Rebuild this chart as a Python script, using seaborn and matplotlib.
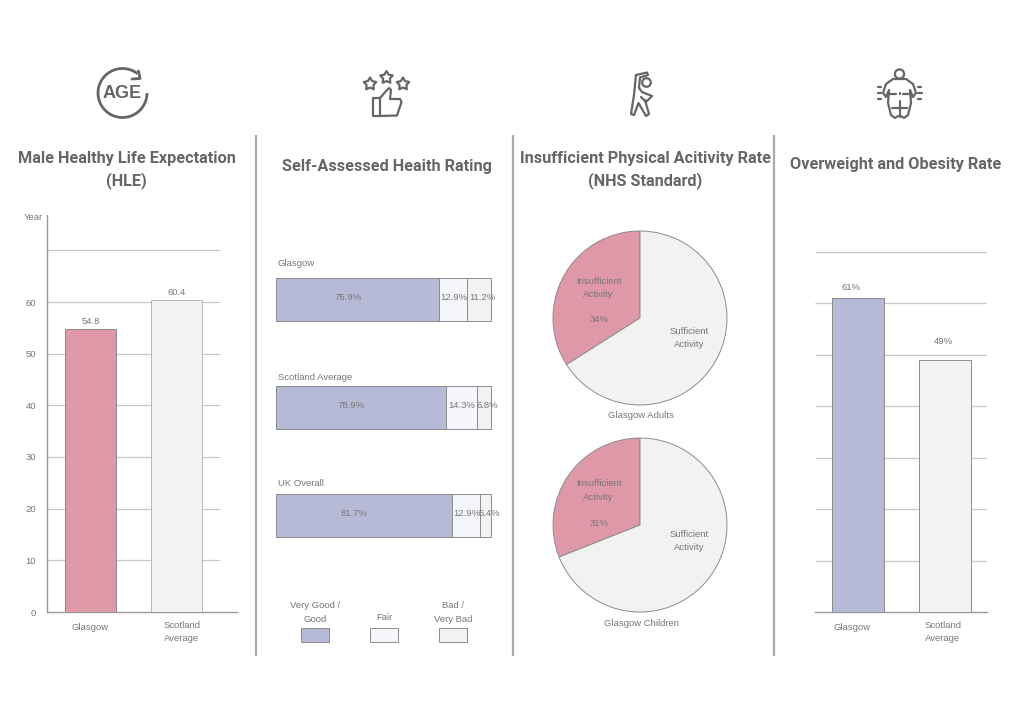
import numpy as np
import pandas as pd
import matplotlib
matplotlib.use("Agg")
import matplotlib.pyplot as plt
from matplotlib.patches import Arc, Circle, Polygon
import seaborn as sns

# Data
hle_cities = ["Glasgow", "Scotland\nAverage"]
hle_values = [54.8, 60.4]
hle_ticks = [0, 10, 20, 30, 40, 50, 60]

rating_places = ["Glasgow", "Scotland Average", "UK Overall"]
rating_good = [75.9, 78.9, 81.7]
rating_fair = [12.9, 14.3, 12.9]
rating_bad = [11.2, 6.8, 5.4]
rating_legend = ["Very Good /\nGood", "Fair", "Bad /\nVery Bad"]

pie_names = ["Glasgow Adults", "Glasgow Children"]
pie_insufficient = [34, 31]

obesity_cities = ["Glasgow", "Scotland\nAverage"]
obesity_values = [61, 49]

# Colours
PINK = "#de98a8"
BLUE = "#b6bad6"
PALE = "#f5f6fb"
LIGHT = "#f2f2f2"
GREY = "#777777"
DARK = "#666666"
EDGE = "#8c8c8c"
GRID = "#c8c8c8"

W, H = 1024, 724

sns.set_theme(style="white")
plt.rcParams["font.family"] = ["Liberation Sans", "DejaVu Sans"]
SMALL_SIZE = 6.8

fig = plt.figure(figsize=(W / 100, H / 100), dpi=100, facecolor="white")


def px_axes(x0, y0, x1, y1):
    # axes placed with pixel box, y measured from the top
    ax = fig.add_axes([x0 / W, 1 - y1 / H, (x1 - x0) / W, (y1 - y0) / H])
    ax.patch.set_alpha(0)
    return ax


def small_text(ax, x, y, s, **kw):
    ax.text(x, y, s, fontsize=SMALL_SIZE, color=GREY, ha="center",
            va="center", linespacing=1.6, **kw)


# overlay in pixel coords for text, dividers, icons
over = px_axes(0, 0, W, H)
over.set_zorder(10)
over.set_xlim(0, W)
over.set_ylim(H, 0)
over.axis("off")

for x in [255.5, 513, 773.5]:
    over.plot([x, x], [135, 656], color="#ababab", lw=1.6, solid_capstyle="butt")

titles = [(126.5, 158.5, "Male Healthy Life Expectation"), (126.5, 180.5, "(HLE)"),
          (386.5, 166, "Self-Assessed Heaith Rating"),
          (645.5, 158.5, "Insufficient Physical Acitivity Rate"), (645.5, 180.5, "(NHS Standard)"),
          (895.5, 164, "Overweight and Obesity Rate")]
for x, y, s in titles:
    over.text(x, y, s, family=["Roboto", "Liberation Sans"], fontsize=11.7, fontweight="bold",
              color=DARK, ha="center", va="center")


def bar_panel(rect, cats, vals, colors, y_per_px, centers, bar_px, line_end):
    x0, y0, x1, y1 = rect
    ax = px_axes(x0, y0, x1, y1)
    df = pd.DataFrame({"city": cats, "value": vals})
    sns.barplot(data=df, x="city", y="value", hue="city", palette=colors, legend=False,
                width=bar_px / (centers[1] - centers[0]), saturation=1,
                edgecolor=EDGE, linewidth=0.7, ax=ax, zorder=3)
    step = centers[1] - centers[0]
    ax.set_xlim((x0 - centers[0]) / step, (x1 - centers[0]) / step)
    ax.set_ylim(0, (y1 - y0) * y_per_px)
    ax.set_xlabel("")
    ax.set_ylabel("")
    ax.set_xticks([])
    for s in ["top", "right", "left"]:
        ax.spines[s].set_visible(False)
    ax.spines["bottom"].set_color("#999999")
    ax.spines["bottom"].set_linewidth(1)
    ax.hlines(np.arange(10, 80, 10), ax.get_xlim()[0], (line_end - centers[0]) / step,
              color=GRID, lw=0.9, zorder=1)
    return ax


# HLE panel
ax1 = bar_panel((47, 215, 237, 612), hle_cities, hle_values, [PINK, LIGHT],
                60 / 310, [90.5, 176.5], 51, 220)
ax1.spines["left"].set_visible(True)
ax1.spines["left"].set_color("#999999")
ax1.spines["left"].set_linewidth(1)
ax1.set_yticks(hle_ticks)
ax1.set_yticklabels(hle_ticks, fontsize=SMALL_SIZE, color=GREY)
ax1.tick_params(axis="y", length=0, pad=8)
ax1.patches[1].set_edgecolor("#b5b5b5")
for v, x in zip(hle_values, [90.5, 177]):
    small_text(over, x, 612 - v * 310 / 60 - 7.5, f"{v}")
small_text(over, 33, 217, "Year")
small_text(over, 90, 628, hle_cities[0])
small_text(over, 182, 632, hle_cities[1])

# Obesity panel
ax4 = bar_panel((815, 215, 987, 612), obesity_cities, obesity_values, [BLUE, LIGHT],
                1 / 5.15, [858, 944.5], 52, 987)
ax4.set_yticks([])
small_text(over, 851, 287, f"{obesity_values[0]}%")
small_text(over, 943, 342, f"{obesity_values[1]}%")
small_text(over, 852, 628, obesity_cities[0])
small_text(over, 943, 632, obesity_cities[1])

# Stacked rating bars
ax2 = px_axes(276, 245, 492, 560)
rating_df = pd.DataFrame({"place": rating_places, "good": rating_good,
                          "fair": rating_fair, "bad": rating_bad})
lefts = np.zeros(len(rating_places))
for col, color in zip(["good", "fair", "bad"], [BLUE, PALE, LIGHT]):
    sns.barplot(data=rating_df, y="place", x=col, color=color, saturation=1, width=43 / 108,
                left=lefts, edgecolor=EDGE, linewidth=0.7, ax=ax2)
    lefts = lefts + rating_df[col].values
ax2.set_xlim(0, 100.3)
ax2.set_ylim((560 - 299) / 108, (245 - 299) / 108)
ax2.axis("off")
for i, place in enumerate(rating_places):
    yc = 299 + 108 * i
    over.text(278, [263, 377, 483][i], place, fontsize=SMALL_SIZE, color=GREY, ha="left", va="center")
    g, f, b = rating_good[i], rating_fair[i], rating_bad[i]
    small_text(over, 276 + g * 2.16 * 0.44, yc - 1, f"{g}%")
    small_text(over, 276 + (g + f / 2) * 2.16, yc - 1, f"{f}%")
    small_text(over, 279 + (g + f + b / 2) * 2.16, yc - 1, f"{b}%")

# Rating legend
for x, s, c, ty in zip([315, 384, 453], rating_legend, [BLUE, PALE, LIGHT], [612.5, 618, 612.5]):
    small_text(over, x, ty, s)
    over.add_patch(plt.Rectangle((x - 14, 627.5), 28, 14, fc=c, ec=EDGE, lw=0.7))

# Pies
ins_y = [-30, -34.5]
pct_y = [2, -2]
suf_y = [20, 16]
for cy, name, val, a, b, c in zip([318, 525], pie_names, pie_insufficient, ins_y, pct_y, suf_y):
    ax = px_axes(640 - 87, cy - 87, 640 + 87, cy + 87)
    ax.pie([val, 100 - val], colors=[PINK, LIGHT], startangle=90, counterclock=True, radius=1,
           wedgeprops=dict(edgecolor=EDGE, linewidth=0.7))
    ax.set_xlim(-1, 1)
    ax.set_ylim(-1, 1)
    small_text(over, 598.5, cy + a, "Insufficient\nActivity")
    small_text(over, 599, cy + b, f"{val}%")
    small_text(over, 689, cy + c, "Sufficient\nActivity")
    small_text(over, 641, cy + 98, name)

# Icons
ic = dict(color=DARK, lw=1.6, solid_capstyle="round", solid_joinstyle="round")


def star(cx, cy, r):
    ang = np.radians(np.arange(10) * 36 - 90)
    rad = np.where(np.arange(10) % 2 == 0, r, r * 0.55)
    over.add_patch(Polygon(np.c_[cx + rad * np.cos(ang), cy + rad * np.sin(ang)], closed=True,
                           fc="none", ec=DARK, lw=1.6, joinstyle="round"))


# age icon
over.add_patch(Arc((122.5, 93), 49, 49, theta1=0, theta2=308, ec=DARK, lw=2.0))
over.plot([138.5, 140, 132], [71, 78.5, 79], **{**ic, "lw": 2})
over.text(122.5, 93.5, "AGE", fontsize=13, fontweight="bold", color=DARK, ha="center", va="center")

# stars and thumb
star(370, 84, 6.5)
star(386.5, 77.5, 6.5)
star(403, 84, 6.5)
over.plot([372.5, 380, 380, 372.5, 372.5], [98, 98, 116, 116, 98], **ic)
over.plot([380, 387, 389, 391, 390, 400, 401.5, 397, 380],
          [98, 90, 88, 90, 99, 99, 102, 115.5, 116], **ic)

# stretching person
over.plot([636, 647, 648, 640, 639, 642, 652, 646, 641],
          [75, 72.5, 75, 77.5, 88, 92, 96, 102, 97], **ic)
over.plot([645, 649, 646, 638.5, 634, 631, 634, 636],
          [100, 114, 116, 103, 115, 114, 95, 75], **ic)
over.add_patch(Circle((646.5, 82.5), 4.3, fc="white", ec=DARK, lw=1.6))

# overweight person
cx = 899.5
over.add_patch(Circle((cx, 74), 4.6, fc="white", ec=DARK, lw=1.6))
left_side = np.array([[893, 79], [886, 84], [883, 93], [886, 97], [889, 90], [888, 103],
                      [891, 115], [895, 118], [898, 116]])
over.plot(left_side[:, 0], left_side[:, 1], **ic)
over.plot(2 * cx - left_side[:, 0], left_side[:, 1], **ic)
over.plot([893, 906], [79, 79], **ic)
over.plot([890, 896], [93.5, 93.5], **ic)
over.plot([903, 909], [93.5, 93.5], **ic)
over.plot([cx, cx], [93, 94], **ic)
over.plot([cx, cx], [101, 117], **ic)
over.plot([892, 907], [108, 108], **ic)
for side, sx in [(-1, 881), (1, 918)]:
    for yy, ln in [(87, 3), (93, 3.5), (99, 3)]:
        over.plot([sx, sx + side * ln], [yy, yy], **ic)

fig.savefig("out.png", dpi=100)
